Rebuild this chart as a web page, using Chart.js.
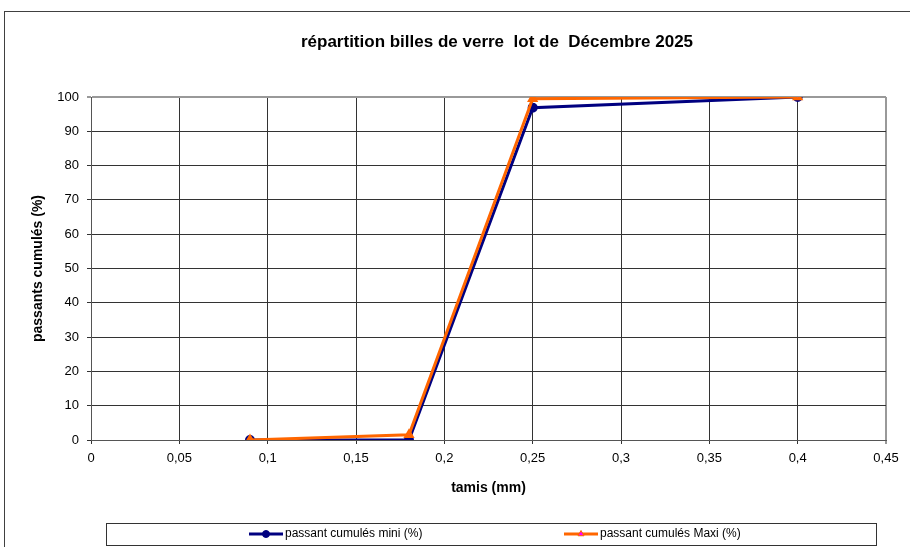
<!DOCTYPE html>
<html>
<head>
<meta charset="utf-8">
<script src="https://cdn.jsdelivr.net/npm/chart.js@4/dist/chart.umd.min.js"></script>
<style>
  html, body { margin: 0; padding: 0; background: #fff; }
  #wrap { width: 910px; height: 547px; }
</style>
</head>
<body>
<div id="wrap"><canvas id="chart" width="910" height="547"></canvas></div>
<script>
const chartTitle = 'répartition billes de verre  lot de  Décembre 2025';
const xTitle = 'tamis (mm)';
const yTitle = 'passants cumulés (%)';

const tamis = [0.09, 0.18, 0.25, 0.4];
const miniLabel = 'passant cumulés mini (%)';
const miniValues = [0, 0, 96.9, 100];
const maxiLabel = 'passant cumulés Maxi (%)';
const maxiValues = [0, 1.5, 99.5, 100];

const font = "'Liberation Sans', Arial, sans-serif";

const toPoints = (xs, ys) => xs.map((x, i) => ({ x, y: ys[i] }));

// outer frame, title, and legend box with line-and-marker samples
const framePlugin = {
  id: 'frame',
  afterDraw(chart) {
    const ctx = chart.ctx;
    ctx.save();
    ctx.strokeStyle = '#404040';
    ctx.lineWidth = 1;
    ctx.strokeRect(4.5, 11.5, 1000, 1000);

    ctx.fillStyle = '#000';
    ctx.font = 'bold 17px ' + font;
    ctx.textAlign = 'center';
    ctx.textBaseline = 'middle';
    ctx.fillText(chartTitle, 497, 42);

    ctx.textAlign = 'left';
    ctx.strokeStyle = '#333';
    ctx.strokeRect(106.5, 523.5, 770, 22);

    const xs = [249, 564];
    chart.data.datasets.forEach((ds, i) => {
      const x0 = xs[i];
      const y = 534;
      ctx.strokeStyle = ds.borderColor;
      ctx.lineWidth = 3;
      ctx.beginPath();
      ctx.moveTo(x0, y);
      ctx.lineTo(x0 + 34, y);
      ctx.stroke();
      ctx.fillStyle = ds.pointBackgroundColor;
      ctx.strokeStyle = ds.pointBorderColor;
      ctx.lineWidth = 1;
      Chart.helpers.drawPoint(ctx, { pointStyle: ds.pointStyle, radius: ds.pointRadius, borderWidth: 1 }, x0 + 17, y);
      ctx.fillStyle = '#000';
      ctx.font = '12px ' + font;
      ctx.textBaseline = 'middle';
      ctx.fillText(ds.label, x0 + 36, y);
    });
    ctx.restore();
  }
};

new Chart(document.getElementById('chart'), {
  type: 'line',
  data: {
    datasets: [
      {
        label: miniLabel,
        data: toPoints(tamis, miniValues),
        borderColor: '#000080',
        backgroundColor: '#000080',
        borderWidth: 3,
        pointStyle: 'circle',
        pointRadius: 3.5,
        pointBackgroundColor: '#000080',
        pointBorderColor: '#000080',
        tension: 0,
        order: 2
      },
      {
        label: maxiLabel,
        data: toPoints(tamis, maxiValues),
        borderColor: '#FF6600',
        backgroundColor: '#FF6600',
        borderWidth: 3,
        pointStyle: 'triangle',
        pointRadius: 3.5,
        pointBackgroundColor: '#FF00FF',
        pointBorderColor: '#FF6600',
        tension: 0,
        order: 1
      }
    ]
  },
  options: {
    responsive: false,
    animation: false,
    layout: { padding: { left: 0, right: 24, top: 97, bottom: 47 } },
    plugins: {
      legend: { display: false },
      tooltip: { enabled: false },
      title: { display: false }
    },
    scales: {
      x: {
        type: 'linear',
        min: 0,
        max: 0.45,
        afterFit: s => { s.height = 60; },
        ticks: {
          stepSize: 0.05,
          color: '#000',
          padding: 7,
          font: { family: font, size: 13 },
          callback: v => String(Math.round(v * 100) / 100).replace('.', ',')
        },
        grid: {
          color: c => (c.tick && Math.abs(c.tick.value - 0.45) < 1e-9) ? '#999' : '#333',
          lineWidth: c => (c.tick && Math.abs(c.tick.value - 0.45) < 1e-9) ? 2 : 1,
          tickLength: 4
        },
        border: { color: '#555' },
        title: {
          display: true,
          text: xTitle,
          color: '#000',
          font: { family: font, size: 14, weight: 'bold' },
          padding: { top: 0, bottom: 3.6 }
        }
      },
      y: {
        min: 0,
        max: 100,
        afterFit: s => { s.width = 91; },
        ticks: {
          stepSize: 10,
          color: '#000',
          padding: 8,
          font: { family: font, size: 13 }
        },
        grid: {
          color: c => (c.tick && c.tick.value === 100) ? '#999' : '#333',
          lineWidth: c => (c.tick && c.tick.value === 100) ? 2 : 1,
          tickLength: 4
        },
        border: { color: '#555' },
        title: {
          display: true,
          text: yTitle,
          color: '#000',
          font: { family: font, size: 14, weight: 'bold' },
          padding: { top: 29.6, bottom: 0 }
        }
      }
    }
  },
  plugins: [framePlugin]
});
</script>
</body>
</html>
